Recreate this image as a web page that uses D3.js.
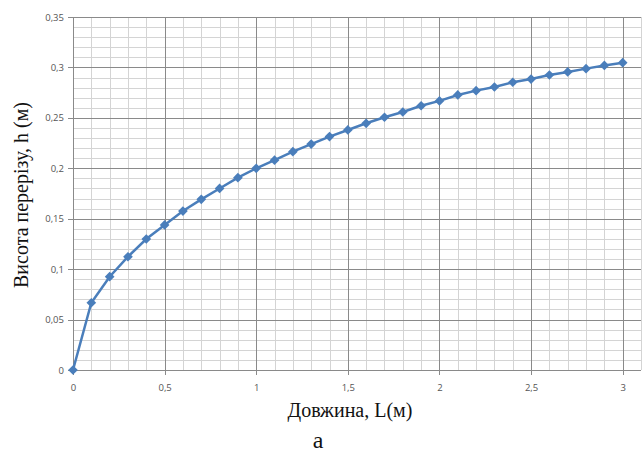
<!DOCTYPE html>
<html>
<head>
<meta charset="utf-8">
<script src="https://cdn.jsdelivr.net/npm/d3@7"></script>
<style>
    body { margin: 0; background: #fff; }
    svg { display: block; }
</style>
</head>
<body>
<div id="chart"></div>
<script>
// довжина L (м)
var lengths = [0, 0.1, 0.2, 0.3, 0.4, 0.5, 0.6, 0.7, 0.8, 0.9, 1.0,
    1.1, 1.2, 1.3, 1.4, 1.5, 1.6, 1.7, 1.8, 1.9, 2.0,
    2.1, 2.2, 2.3, 2.4, 2.5, 2.6, 2.7, 2.8, 2.9, 3.0];
// висота перерізу h (м)
var heights = [0, 0.0667, 0.0925, 0.1123, 0.1299, 0.1438, 0.1576, 0.1692, 0.1800, 0.1907, 0.2000,
    0.2080, 0.2165, 0.2240, 0.2314, 0.2380, 0.2446, 0.2506, 0.2558, 0.2620, 0.2668,
    0.2727, 0.2770, 0.2806, 0.2853, 0.2885, 0.2925, 0.2955, 0.2988, 0.3020, 0.3047];
var xTicks = [0, 0.5, 1, 1.5, 2, 2.5, 3];
var yTicks = [0, 0.05, 0.1, 0.15, 0.2, 0.25, 0.3, 0.35];

var chart_width = 644, chart_height = 452;
var plot_left = 73, plot_right = 641, plot_top = 17, plot_bottom = 370;

var svg = d3.select('#chart').append('svg')
    .attr('width', chart_width)
    .attr('height', chart_height);

var x = d3.scaleLinear().domain([0, 3.1]).range([plot_left, plot_right]);
var y = d3.scaleLinear().domain([0, 0.35]).range([plot_bottom, plot_top]);

var fmt = function (v) { return String(+v.toFixed(2)).replace('.', ','); };
var px = function (v) { return Math.round(v) + 0.5; };

// minor grid
var grid = svg.append('g').attr('shape-rendering', 'crispEdges');
d3.range(0, 32).forEach(function (i) {
    grid.append('line')
        .attr('x1', px(x(i / 10))).attr('x2', px(x(i / 10)))
        .attr('y1', plot_top).attr('y2', plot_bottom)
        .attr('stroke', '#d4d4d4');
});
d3.range(0, 36).forEach(function (i) {
    grid.append('line')
        .attr('x1', plot_left).attr('x2', plot_right)
        .attr('y1', px(y(i / 100))).attr('y2', px(y(i / 100)))
        .attr('stroke', '#d4d4d4');
});

// major grid
xTicks.forEach(function (v) {
    grid.append('line')
        .attr('x1', px(x(v))).attr('x2', px(x(v)))
        .attr('y1', plot_top).attr('y2', plot_bottom + 5)
        .attr('stroke', '#8a8a8a');
});
yTicks.forEach(function (v) {
    grid.append('line')
        .attr('x1', plot_left - 5).attr('x2', plot_right)
        .attr('y1', px(y(v))).attr('y2', px(y(v)))
        .attr('stroke', '#8a8a8a');
});

// tick labels
var xAxis = svg.append('g')
    .attr('transform', 'translate(0,' + (plot_bottom + 5) + ')')
    .call(d3.axisBottom(x).tickValues(xTicks).tickFormat(fmt).tickSize(0).tickPadding(9));
var yAxis = svg.append('g')
    .attr('transform', 'translate(' + (plot_left - 5) + ',0)')
    .call(d3.axisLeft(y).tickValues(yTicks).tickFormat(fmt).tickSize(0).tickPadding(4));
[xAxis, yAxis].forEach(function (a) {
    a.select('.domain').remove();
    a.selectAll('text')
        .attr('fill', '#555')
        .attr('font-family', 'Open Sans, Liberation Sans, sans-serif')
        .attr('font-size', 9.5);
});

// series
var points = lengths.map(function (d, i) { return [d, heights[i]]; });
var line = d3.line()
    .x(function (d) { return x(d[0]); })
    .y(function (d) { return y(d[1]); });

svg.append('path')
    .datum(points)
    .attr('d', line)
    .attr('fill', 'none')
    .attr('stroke', '#4a7ebb')
    .attr('stroke-width', 2.5);

svg.append('g').selectAll('path')
    .data(points)
    .enter()
    .append('path')
    .attr('d', d3.symbol().type(d3.symbolDiamond2).size(60))
    .attr('transform', function (d) { return 'translate(' + x(d[0]) + ',' + y(d[1]) + ')'; })
    .attr('fill', '#4a7ebb');

// titles
svg.append('text')
    .attr('x', 350).attr('y', 417)
    .attr('text-anchor', 'middle')
    .attr('font-family', 'Liberation Serif, Times New Roman, serif')
    .attr('font-size', 20)
    .attr('fill', '#111')
    .text('Довжина, L(м)');

svg.append('text')
    .attr('transform', 'translate(28,195) rotate(-90)')
    .attr('text-anchor', 'middle')
    .attr('font-family', 'Liberation Serif, Times New Roman, serif')
    .attr('font-size', 20)
    .attr('fill', '#111')
    .text('Висота перерізу, h (м)');

svg.append('text')
    .attr('x', 318).attr('y', 448)
    .attr('text-anchor', 'middle')
    .attr('font-family', 'Liberation Serif, Times New Roman, serif')
    .attr('font-size', 24)
    .attr('fill', '#111')
    .text('а');
</script>
</body>
</html>
